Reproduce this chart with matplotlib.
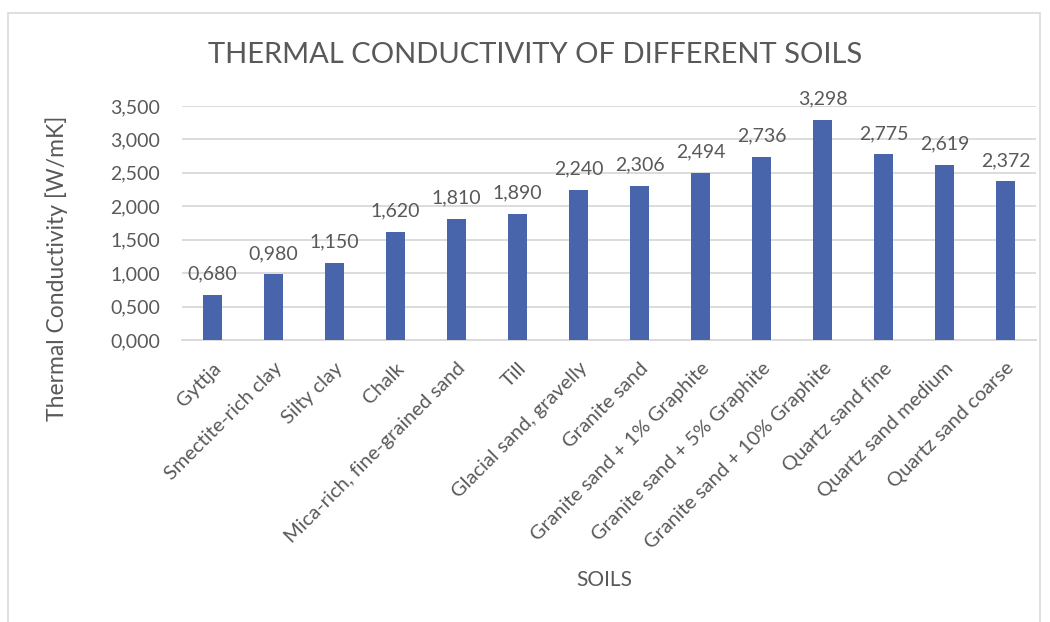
import matplotlib
matplotlib.use("Agg")
from matplotlib import pyplot as plt
from matplotlib.patches import Rectangle
import numpy as np

plt.rcParams['font.family'] = ['Lato', 'DejaVu Sans']

soils = ["Gyttja", "Smectite-rich clay", "Silty clay", "Chalk",
         "Mica-rich, fine-grained sand", "Till", "Glacial sand, gravelly",
         "Granite sand", "Granite sand + 1% Graphite",
         "Granite sand + 5% Graphite", "Granite sand + 10% Graphite",
         "Quartz sand fine", "Quartz sand medium", "Quartz sand coarse"]
conductivity = [0.680, 0.980, 1.150, 1.620, 1.810, 1.890, 2.240,
                2.306, 2.494, 2.736, 3.298, 2.775, 2.619, 2.372]
yticks = [0.0, 0.5, 1.0, 1.5, 2.0, 2.5, 3.0, 3.5]

TEXT = "#595959"
BAR = "#4865AB"
GRID = "#D9D9D9"


def comma(v):
    return f"{v:.3f}".replace(".", ",")


fig = plt.figure(figsize=(10.5, 6.22), dpi=100)
# light frame round the chart area
fig.patches.append(Rectangle((8 / 1050, -0.1), 1032 / 1050, 1.1 - 13 / 622,
                             transform=fig.transFigure, fill=False,
                             edgecolor="#D9D9D9", linewidth=1.2))

ax = fig.add_axes([182 / 1050, 1 - 340 / 622, 854 / 1050, 234 / 622])
x = np.arange(len(soils))
ax.bar(x, conductivity, width=0.31, color=BAR, zorder=3)

for xi, v in zip(x, conductivity):
    ax.annotate(comma(v), (xi, v), xytext=(0, 9), textcoords="offset points",
                ha="center", va="bottom", fontsize=14, color=TEXT)

ax.set_ylim(0, 3.5)
ax.set_xlim(-0.5, len(soils) - 0.5)
ax.set_yticks(yticks)
ax.set_yticklabels([comma(t) for t in yticks], fontsize=14, color=TEXT)
ax.set_xticks(x)
ax.set_xticklabels(soils, rotation=45, ha="right", va="top",
                   rotation_mode="anchor", fontsize=14.5, color=TEXT)
ax.tick_params(axis="y", length=0, pad=16)
ax.tick_params(axis="x", length=0, pad=14)
ax.grid(axis="y", color=GRID, linewidth=1.3, zorder=0)
for side in ["top", "right", "left"]:
    ax.spines[side].set_visible(False)
ax.spines["bottom"].set_color(GRID)
ax.spines["bottom"].set_linewidth(1.3)

fig.text(535 / 1050, 1 - 55 / 622, "THERMAL CONDUCTIVITY OF DIFFERENT SOILS",
         ha="center", va="center", fontsize=21, color=TEXT)
fig.text(57 / 1050, 1 - 268 / 622, "Thermal Conductivity [W/mK]",
         rotation=90, ha="center", va="center", fontsize=16.5, color=TEXT)
fig.text(604 / 1050, 1 - 580 / 622, "SOILS",
         ha="center", va="center", fontsize=15, color=TEXT)

fig.savefig("out.png", dpi=100)
